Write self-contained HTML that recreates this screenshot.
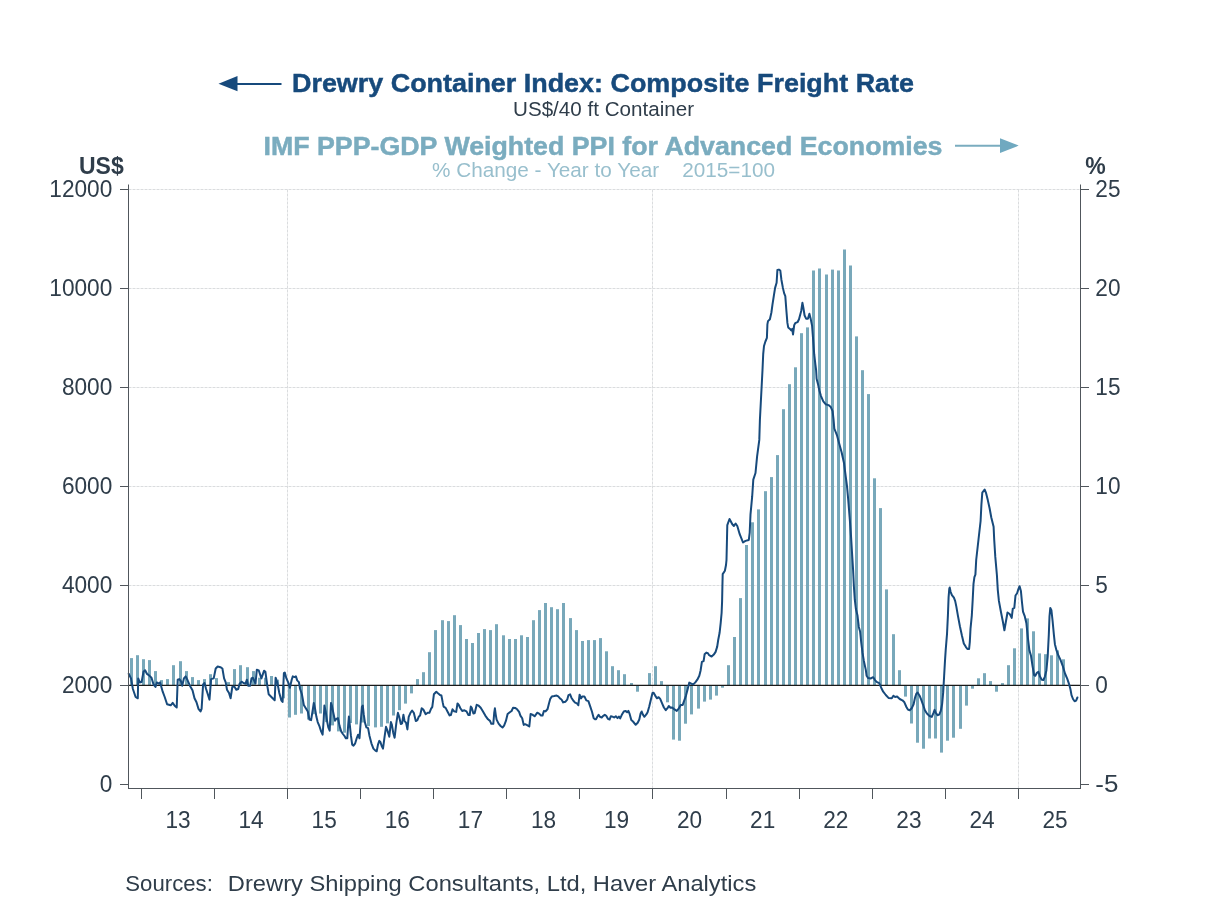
<!DOCTYPE html>
<html lang="en"><head><meta charset="utf-8"><title>Drewry Container Index vs PPI</title>
<style>html,body{margin:0;padding:0;background:#fff}body{width:1208px;height:906px;overflow:hidden}svg{display:block}text{font-family:"Liberation Sans",sans-serif}</style></head><body>
<svg width="1208" height="906" viewBox="0 0 1208 906">
<rect width="1208" height="906" fill="#fff"/>
<g stroke="#dadcde" stroke-width="1" stroke-dasharray="3 1" fill="none">
<line x1="128.5" y1="585.5" x2="1080.5" y2="585.5"/>
<line x1="128.5" y1="486.5" x2="1080.5" y2="486.5"/>
<line x1="128.5" y1="387.5" x2="1080.5" y2="387.5"/>
<line x1="128.5" y1="288.5" x2="1080.5" y2="288.5"/>
<line x1="128.5" y1="189.5" x2="1080.5" y2="189.5"/>
<line x1="287.5" y1="189.5" x2="287.5" y2="788.5"/>
<line x1="652.5" y1="189.5" x2="652.5" y2="788.5"/>
<line x1="1018.5" y1="189.5" x2="1018.5" y2="788.5"/>
</g>
<g fill="#78a8ba">
<rect x="130" y="658.1" width="3" height="27.2"/>
<rect x="136" y="655.2" width="3" height="30.1"/>
<rect x="142" y="659.2" width="3" height="26.1"/>
<rect x="148" y="660.1" width="3" height="25.2"/>
<rect x="154" y="671.1" width="3" height="14.2"/>
<rect x="160" y="680.1" width="3" height="5.2"/>
<rect x="166" y="679.1" width="3" height="6.2"/>
<rect x="172" y="665.2" width="3" height="20.1"/>
<rect x="179" y="661.2" width="3" height="24.1"/>
<rect x="185" y="671.1" width="3" height="14.2"/>
<rect x="191" y="677.1" width="3" height="8.2"/>
<rect x="197" y="680.1" width="3" height="5.2"/>
<rect x="203" y="679.1" width="3" height="6.2"/>
<rect x="209" y="674.2" width="3" height="11.1"/>
<rect x="215" y="678.1" width="3" height="7.2"/>
<rect x="221" y="684.8" width="3" height="0.5"/>
<rect x="227" y="682.1" width="3" height="3.2"/>
<rect x="233" y="669.1" width="3" height="16.2"/>
<rect x="239" y="665.2" width="3" height="20.1"/>
<rect x="246" y="667.2" width="3" height="18.1"/>
<rect x="252" y="671.1" width="3" height="14.2"/>
<rect x="258" y="677.7" width="3" height="7.6"/>
<rect x="264" y="677.7" width="3" height="7.6"/>
<rect x="270" y="676.0" width="3" height="9.3"/>
<rect x="276" y="679.7" width="3" height="5.6"/>
<rect x="282" y="685.3" width="3" height="13.0"/>
<rect x="288" y="685.3" width="3" height="32.2"/>
<rect x="294" y="685.3" width="3" height="29.5"/>
<rect x="300" y="685.3" width="3" height="28.2"/>
<rect x="307" y="685.3" width="3" height="34.2"/>
<rect x="313" y="685.3" width="3" height="28.9"/>
<rect x="319" y="685.3" width="3" height="28.2"/>
<rect x="325" y="685.3" width="3" height="36.8"/>
<rect x="331" y="685.3" width="3" height="40.1"/>
<rect x="337" y="685.3" width="3" height="46.1"/>
<rect x="343" y="685.3" width="3" height="47.4"/>
<rect x="349" y="685.3" width="3" height="37.7"/>
<rect x="355" y="685.3" width="3" height="39.1"/>
<rect x="361" y="685.3" width="3" height="37.2"/>
<rect x="367" y="685.3" width="3" height="40.8"/>
<rect x="374" y="685.3" width="3" height="42.1"/>
<rect x="380" y="685.3" width="3" height="41.5"/>
<rect x="386" y="685.3" width="3" height="38.1"/>
<rect x="392" y="685.3" width="3" height="30.2"/>
<rect x="398" y="685.3" width="3" height="24.9"/>
<rect x="404" y="685.3" width="3" height="18.3"/>
<rect x="410" y="685.3" width="3" height="8.1"/>
<rect x="416" y="679.1" width="3" height="6.2"/>
<rect x="422" y="672.2" width="3" height="13.1"/>
<rect x="428" y="652.2" width="3" height="33.1"/>
<rect x="434" y="630.1" width="3" height="55.2"/>
<rect x="441" y="620.2" width="3" height="65.1"/>
<rect x="447" y="621.1" width="3" height="64.2"/>
<rect x="453" y="615.2" width="3" height="70.1"/>
<rect x="459" y="625.1" width="3" height="60.2"/>
<rect x="465" y="639.0" width="3" height="46.3"/>
<rect x="471" y="643.0" width="3" height="42.3"/>
<rect x="477" y="633.0" width="3" height="52.3"/>
<rect x="483" y="629.1" width="3" height="56.2"/>
<rect x="489" y="630.1" width="3" height="55.2"/>
<rect x="495" y="624.2" width="3" height="61.1"/>
<rect x="502" y="635.3" width="3" height="50.0"/>
<rect x="508" y="639.0" width="3" height="46.3"/>
<rect x="514" y="639.0" width="3" height="46.3"/>
<rect x="520" y="635.3" width="3" height="50.0"/>
<rect x="526" y="637.0" width="3" height="48.3"/>
<rect x="532" y="620.2" width="3" height="65.1"/>
<rect x="538" y="610.1" width="3" height="75.2"/>
<rect x="544" y="603.0" width="3" height="82.3"/>
<rect x="550" y="607.2" width="3" height="78.1"/>
<rect x="556" y="609.2" width="3" height="76.1"/>
<rect x="562" y="603.0" width="3" height="82.3"/>
<rect x="569" y="618.1" width="3" height="67.2"/>
<rect x="575" y="630.1" width="3" height="55.2"/>
<rect x="581" y="641.0" width="3" height="44.3"/>
<rect x="587" y="640.1" width="3" height="45.2"/>
<rect x="593" y="640.1" width="3" height="45.2"/>
<rect x="599" y="638.1" width="3" height="47.2"/>
<rect x="605" y="651.3" width="3" height="34.0"/>
<rect x="611" y="666.2" width="3" height="19.1"/>
<rect x="617" y="670.2" width="3" height="15.1"/>
<rect x="623" y="674.2" width="3" height="11.1"/>
<rect x="630" y="683.0" width="3" height="2.3"/>
<rect x="636" y="685.3" width="3" height="6.4"/>
<rect x="642" y="685.3" width="3" height="0.1"/>
<rect x="648" y="673.1" width="3" height="12.2"/>
<rect x="654" y="666.2" width="3" height="19.1"/>
<rect x="660" y="681.1" width="3" height="4.2"/>
<rect x="666" y="685.3" width="3" height="17.0"/>
<rect x="672" y="685.3" width="3" height="54.3"/>
<rect x="678" y="685.3" width="3" height="55.4"/>
<rect x="684" y="685.3" width="3" height="38.4"/>
<rect x="690" y="685.3" width="3" height="29.1"/>
<rect x="697" y="685.3" width="3" height="23.3"/>
<rect x="703" y="685.3" width="3" height="16.3"/>
<rect x="709" y="685.3" width="3" height="14.3"/>
<rect x="715" y="685.3" width="3" height="10.3"/>
<rect x="721" y="685.3" width="3" height="2.4"/>
<rect x="727" y="665.2" width="3" height="20.1"/>
<rect x="733" y="637.0" width="3" height="48.3"/>
<rect x="739" y="598.1" width="3" height="87.2"/>
<rect x="745" y="545.0" width="3" height="140.3"/>
<rect x="751" y="522.3" width="3" height="163.0"/>
<rect x="757" y="509.4" width="3" height="175.9"/>
<rect x="764" y="491.2" width="3" height="194.1"/>
<rect x="770" y="477.1" width="3" height="208.2"/>
<rect x="776" y="455.1" width="3" height="230.2"/>
<rect x="782" y="409.2" width="3" height="276.1"/>
<rect x="788" y="384.2" width="3" height="301.1"/>
<rect x="794" y="367.3" width="3" height="318.0"/>
<rect x="800" y="333.2" width="3" height="352.1"/>
<rect x="806" y="327.4" width="3" height="357.9"/>
<rect x="812" y="270.5" width="3" height="414.8"/>
<rect x="818" y="268.5" width="3" height="416.8"/>
<rect x="825" y="274.5" width="3" height="410.8"/>
<rect x="831" y="269.6" width="3" height="415.7"/>
<rect x="837" y="270.5" width="3" height="414.8"/>
<rect x="843" y="249.5" width="3" height="435.8"/>
<rect x="849" y="265.5" width="3" height="419.8"/>
<rect x="855" y="336.4" width="3" height="348.9"/>
<rect x="861" y="370.2" width="3" height="315.1"/>
<rect x="867" y="394.1" width="3" height="291.2"/>
<rect x="873" y="478.3" width="3" height="207.0"/>
<rect x="879" y="508.1" width="3" height="177.2"/>
<rect x="885" y="589.4" width="3" height="95.9"/>
<rect x="892" y="634.2" width="3" height="51.1"/>
<rect x="898" y="670.2" width="3" height="15.1"/>
<rect x="904" y="685.3" width="3" height="11.3"/>
<rect x="910" y="685.3" width="3" height="38.2"/>
<rect x="916" y="685.3" width="3" height="57.4"/>
<rect x="922" y="685.3" width="3" height="63.4"/>
<rect x="928" y="685.3" width="3" height="53.2"/>
<rect x="934" y="685.3" width="3" height="53.2"/>
<rect x="940" y="685.3" width="3" height="67.3"/>
<rect x="946" y="685.3" width="3" height="55.4"/>
<rect x="952" y="685.3" width="3" height="52.4"/>
<rect x="959" y="685.3" width="3" height="43.5"/>
<rect x="965" y="685.3" width="3" height="20.3"/>
<rect x="971" y="685.3" width="3" height="3.4"/>
<rect x="977" y="678.3" width="3" height="7.0"/>
<rect x="983" y="673.2" width="3" height="12.1"/>
<rect x="989" y="681.1" width="3" height="4.2"/>
<rect x="995" y="685.3" width="3" height="6.4"/>
<rect x="1001" y="683.1" width="3" height="2.2"/>
<rect x="1007" y="665.2" width="3" height="20.1"/>
<rect x="1013" y="648.3" width="3" height="37.0"/>
<rect x="1020" y="628.4" width="3" height="56.9"/>
<rect x="1026" y="618.4" width="3" height="66.9"/>
<rect x="1032" y="631.3" width="3" height="54.0"/>
<rect x="1038" y="653.4" width="3" height="31.9"/>
<rect x="1044" y="654.2" width="3" height="31.1"/>
<rect x="1050" y="655.3" width="3" height="30.0"/>
<rect x="1056" y="650.4" width="3" height="34.9"/>
<rect x="1062" y="659.3" width="3" height="26.0"/>
</g>
<line x1="128.5" y1="685.3" x2="1080.5" y2="685.3" stroke="#1a1a1a" stroke-width="1.3"/>
<path d="M128.7 673.8 L131.0 678.4 L132.9 689.0 L135.6 697.0 L137.8 698.3 L138.2 678.4 L139.8 682.4 L141.6 682.1 L143.5 671.8 L145.1 670.2 L146.9 673.8 L148.8 675.1 L151.5 677.7 L153.5 684.4 L155.5 687.0 L156.8 682.4 L158.8 683.7 L160.1 682.4 L162.7 691.7 L164.7 697.0 L167.1 704.2 L170.7 705.3 L172.7 702.9 L174.7 705.8 L176.7 707.5 L177.7 679.7 L179.3 679.1 L180.9 681.1 L182.2 685.7 L183.9 678.4 L185.7 676.4 L187.3 679.7 L189.9 685.7 L192.5 690.3 L194.5 698.3 L196.5 702.3 L198.5 708.9 L200.5 711.5 L201.6 708.9 L203.1 684.4 L204.5 683.0 L206.1 689.0 L207.8 694.3 L209.5 699.6 L211.1 679.1 L213.7 678.4 L215.7 668.5 L217.7 666.5 L220.4 667.2 L222.4 668.5 L224.1 678.4 L225.7 682.4 L227.0 689.7 L229.0 693.0 L230.6 698.3 L232.3 687.0 L234.3 686.4 L236.3 689.7 L238.2 689.0 L239.6 683.7 L241.6 681.7 L243.5 683.0 L245.5 683.7 L246.9 679.7 L248.2 685.7 L250.2 685.7 L251.5 678.4 L252.8 677.7 L255.5 683.7 L256.8 669.8 L258.8 670.5 L261.4 678.4 L264.1 670.7 L265.4 671.8 L267.4 686.4 L268.7 694.3 L271.4 697.0 L274.7 700.3 L275.6 677.7 L277.3 682.4 L279.3 693.0 L281.3 700.3 L282.6 702.0 L283.9 673.1 L284.8 672.5 L286.4 678.4 L288.2 682.4 L289.9 687.7 L291.7 679.7 L292.8 676.4 L294.6 677.1 L295.9 676.4 L297.2 680.4 L298.9 682.1 L300.1 689.0 L301.9 694.3 L303.8 704.9 L305.8 708.2 L307.8 711.5 L309.4 719.5 L311.1 720.1 L312.5 711.5 L313.8 702.9 L315.1 708.9 L316.4 716.8 L317.7 722.1 L319.3 725.8 L321.1 731.4 L322.6 734.7 L323.7 719.5 L324.4 705.6 L325.7 711.5 L327.0 720.8 L328.3 727.4 L329.7 730.7 L331.0 702.9 L331.9 705.6 L333.2 712.2 L335.0 720.8 L336.3 718.8 L337.9 718.1 L339.6 726.1 L341.2 731.4 L342.9 734.0 L344.5 736.0 L345.8 738.3 L347.3 738.3 L348.2 724.8 L348.9 716.6 L349.8 724.8 L350.9 735.4 L352.2 744.6 L353.5 745.6 L355.2 743.3 L356.8 738.0 L358.1 734.7 L359.5 738.3 L360.5 724.8 L361.9 706.9 L362.8 705.6 L363.7 714.2 L365.0 722.8 L366.4 727.4 L368.1 728.1 L369.4 735.4 L371.4 743.3 L373.4 748.6 L375.4 750.6 L376.7 751.3 L378.0 744.6 L379.3 740.9 L380.4 742.0 L381.7 746.0 L383.0 748.6 L384.6 736.7 L386.0 726.8 L387.3 730.1 L389.3 736.7 L390.9 722.1 L391.9 724.8 L393.2 732.7 L394.6 737.7 L396.3 723.4 L397.9 712.8 L399.2 716.8 L400.8 724.1 L402.1 723.4 L403.4 714.8 L404.5 720.8 L406.1 722.8 L407.4 729.4 L408.7 716.8 L410.5 712.8 L412.1 710.5 L413.8 712.8 L415.8 721.1 L417.4 720.1 L418.7 716.8 L420.1 715.5 L421.7 708.2 L423.3 709.5 L425.7 714.2 L427.7 712.8 L429.4 712.8 L431.0 708.9 L432.3 706.9 L433.9 694.3 L436.3 691.7 L438.3 693.6 L440.0 695.0 L441.4 695.5 L442.7 702.4 L443.6 706.6 L445.6 707.9 L447.6 711.7 L449.6 715.4 L450.9 715.0 L452.5 709.3 L454.2 711.4 L456.2 711.9 L457.5 703.4 L458.8 705.0 L460.4 708.3 L462.2 711.0 L464.4 710.3 L466.5 711.4 L468.4 715.0 L469.7 715.0 L470.8 706.6 L471.8 707.9 L473.4 713.6 L474.7 713.0 L476.7 704.8 L478.7 705.7 L480.7 707.7 L482.7 711.0 L485.3 715.6 L488.0 719.3 L490.0 720.9 L491.3 723.8 L493.3 723.8 L494.2 713.0 L494.9 708.3 L495.7 714.3 L496.6 719.6 L498.6 723.6 L500.6 726.0 L502.5 727.5 L504.1 725.6 L505.9 720.9 L507.6 714.0 L509.8 712.3 L511.6 711.0 L513.1 707.7 L515.1 707.9 L517.1 709.3 L519.1 711.9 L520.4 715.6 L522.2 718.3 L523.7 724.9 L525.1 724.2 L527.1 725.2 L529.3 726.5 L530.6 714.0 L532.4 714.6 L534.6 716.3 L537.3 712.7 L539.0 713.6 L541.0 715.4 L542.5 715.6 L543.9 711.0 L545.6 711.4 L547.6 709.0 L548.9 703.7 L550.2 699.1 L551.8 696.4 L554.2 696.0 L556.6 695.5 L558.2 696.4 L560.2 698.7 L561.5 699.5 L563.2 702.4 L565.5 701.7 L567.2 699.7 L568.5 695.1 L570.1 694.4 L571.4 697.7 L573.4 700.8 L575.1 702.6 L577.0 703.4 L578.3 705.3 L579.6 694.7 L581.0 698.4 L582.3 696.4 L584.4 696.4 L586.3 700.4 L588.4 701.1 L590.2 706.4 L592.0 711.7 L593.7 718.3 L595.0 719.3 L596.0 719.2 L597.3 716.8 L598.6 714.8 L599.9 716.8 L601.7 717.5 L603.2 715.8 L604.8 714.8 L606.2 715.8 L607.9 718.8 L609.6 719.5 L610.9 716.2 L612.5 716.6 L614.1 717.5 L615.8 716.2 L617.5 718.1 L618.9 716.6 L620.2 718.4 L621.8 714.8 L623.8 711.5 L625.5 710.9 L627.1 712.2 L628.4 710.9 L629.7 714.2 L631.3 720.1 L633.0 721.5 L635.7 724.8 L637.7 722.8 L639.3 719.5 L640.6 713.5 L641.7 711.5 L643.0 714.8 L644.3 716.8 L646.3 714.4 L647.6 712.2 L649.3 706.2 L650.9 699.6 L652.5 693.0 L653.6 692.7 L655.2 695.6 L656.9 698.3 L658.6 697.2 L660.2 698.9 L662.2 703.6 L663.9 707.5 L665.8 710.2 L667.5 708.2 L668.8 706.0 L670.5 707.8 L672.1 707.5 L674.1 709.1 L676.8 710.9 L678.5 708.9 L680.7 704.9 L682.7 704.9 L684.3 700.3 L686.0 695.6 L687.7 689.0 L689.3 682.6 L691.3 683.7 L693.3 684.4 L695.3 682.4 L697.3 679.7 L699.3 675.8 L700.6 670.5 L701.9 661.9 L703.6 661.2 L704.6 654.3 L706.3 652.6 L707.9 653.2 L709.2 655.2 L711.6 656.6 L713.8 654.6 L715.6 651.9 L717.2 646.6 L718.2 640.0 L719.6 632.8 L720.7 622.9 L721.6 613.0 L722.1 601.4 L722.4 586.5 L722.7 574.1 L724.9 570.8 L726.0 565.0 L726.5 560.0 L727.3 525.1 L729.5 519.0 L730.6 521.0 L732.3 524.3 L733.9 526.0 L735.6 523.5 L737.3 526.0 L739.7 534.2 L741.4 538.4 L743.0 542.5 L745.5 540.9 L748.8 540.0 L749.7 532.6 L750.5 514.4 L752.2 496.2 L753.3 479.6 L755.5 473.0 L757.1 456.4 L759.3 439.9 L759.9 420.0 L762.5 370.0 L763.2 354.2 L764.0 346.0 L765.4 341.5 L766.9 337.8 L767.4 324.4 L768.0 321.1 L769.9 319.2 L771.4 312.5 L772.5 304.3 L773.9 295.3 L775.1 287.9 L776.6 282.7 L777.4 270.0 L778.9 269.6 L780.3 270.5 L781.4 279.7 L782.9 287.9 L784.1 293.1 L785.3 296.1 L786.3 309.5 L787.4 322.9 L788.2 327.4 L790.0 328.9 L791.2 330.4 L792.3 328.9 L793.0 334.5 L794.2 325.1 L795.2 323.2 L797.5 322.2 L799.0 319.2 L801.2 311.0 L802.4 302.8 L803.4 308.0 L804.6 315.5 L806.1 318.7 L807.9 318.7 L809.4 313.7 L810.6 318.4 L812.1 325.9 L813.1 339.3 L814.2 354.2 L815.4 364.6 L816.1 370.0 L816.6 378.7 L818.1 384.5 L819.3 390.3 L821.0 396.1 L823.3 401.3 L825.6 404.2 L828.5 405.1 L830.8 407.1 L832.6 411.1 L833.5 419.2 L834.3 428.5 L837.1 435.7 L839.1 443.2 L841.6 452.3 L844.0 463.0 L845.7 476.3 L847.0 486.2 L848.2 499.5 L849.8 519.3 L851.0 535.9 L852.0 552.5 L853.1 570.0 L853.9 586.5 L854.8 599.7 L855.9 609.0 L857.5 615.6 L858.8 626.9 L860.1 631.5 L861.2 642.1 L862.5 652.7 L863.8 660.7 L865.8 669.9 L866.6 675.8 L868.2 678.1 L870.6 678.5 L873.2 677.2 L874.8 679.8 L876.6 681.8 L879.2 683.1 L881.2 687.7 L883.2 691.7 L885.8 695.0 L888.5 697.9 L891.8 698.3 L893.4 695.7 L895.1 697.0 L897.1 696.6 L899.7 699.0 L902.4 700.3 L904.4 702.3 L906.4 707.0 L907.9 709.6 L909.7 710.3 L911.7 708.3 L913.6 704.3 L915.0 697.7 L916.3 693.7 L917.6 692.6 L919.6 695.7 L921.2 699.7 L922.9 704.3 L924.9 710.3 L926.9 713.6 L929.5 716.0 L931.8 716.9 L933.5 712.9 L934.6 709.9 L935.8 712.9 L937.5 715.2 L939.2 714.6 L940.8 710.9 L942.1 704.3 L943.2 692.4 L944.1 676.5 L945.0 660.6 L945.7 650.1 L947.0 634.2 L947.9 615.6 L948.6 597.1 L949.3 588.5 L949.7 587.5 L950.6 591.8 L951.9 595.1 L953.9 597.7 L955.2 601.1 L956.3 606.4 L957.9 615.6 L959.9 626.2 L961.9 635.5 L963.8 643.4 L965.8 646.8 L967.4 649.0 L969.1 649.0 L969.8 642.1 L970.5 628.9 L971.8 615.6 L972.7 599.7 L973.5 583.8 L974.4 577.2 L975.4 574.6 L976.2 560.0 L978.5 539.5 L980.6 521.0 L981.4 504.8 L982.3 492.6 L984.6 489.5 L986.1 493.2 L987.8 500.1 L989.6 508.2 L991.3 517.5 L993.6 526.8 L994.2 539.5 L995.3 556.9 L996.9 575.0 L997.8 590.1 L998.9 600.9 L1000.9 611.7 L1002.9 621.8 L1004.4 630.3 L1006.0 621.0 L1007.5 612.5 L1009.7 614.0 L1011.7 617.9 L1012.8 608.6 L1014.3 607.9 L1015.5 595.5 L1017.1 593.2 L1018.3 589.3 L1019.6 586.2 L1020.9 590.9 L1022.0 602.5 L1023.0 611.7 L1024.8 616.4 L1026.4 623.3 L1027.9 638.0 L1029.4 650.4 L1031.0 655.8 L1032.5 665.8 L1034.1 675.1 L1035.3 675.8 L1036.9 672.8 L1038.4 671.7 L1040.0 676.6 L1041.8 679.7 L1043.4 680.0 L1044.9 676.6 L1046.4 670.4 L1047.7 656.5 L1048.8 634.9 L1049.5 616.4 L1050.3 607.9 L1051.4 610.2 L1052.6 621.0 L1053.9 634.9 L1054.9 644.2 L1056.5 650.4 L1058.5 655.8 L1060.4 659.6 L1062.7 665.8 L1065.0 673.5 L1067.3 678.9 L1068.9 683.6 L1070.4 689.0 L1071.5 695.2 L1073.0 699.0 L1074.6 701.3 L1076.1 700.6 L1077.4 697.5" fill="none" stroke="#174a7c" stroke-width="2" stroke-linejoin="round" stroke-linecap="round"/>
<g stroke="#50565c" stroke-width="1" fill="none">
<line x1="128.5" y1="184.5" x2="128.5" y2="789.0"/>
<line x1="1080.5" y1="184.5" x2="1080.5" y2="789.0"/>
<line x1="128.5" y1="788.5" x2="1080.5" y2="788.5"/>
<line x1="120.0" y1="784.5" x2="128.5" y2="784.5"/>
<line x1="1080.5" y1="784.5" x2="1089.0" y2="784.5"/>
<line x1="120.0" y1="685.5" x2="128.5" y2="685.5"/>
<line x1="1080.5" y1="685.5" x2="1089.0" y2="685.5"/>
<line x1="120.0" y1="585.5" x2="128.5" y2="585.5"/>
<line x1="1080.5" y1="585.5" x2="1089.0" y2="585.5"/>
<line x1="120.0" y1="486.5" x2="128.5" y2="486.5"/>
<line x1="1080.5" y1="486.5" x2="1089.0" y2="486.5"/>
<line x1="120.0" y1="387.5" x2="128.5" y2="387.5"/>
<line x1="1080.5" y1="387.5" x2="1089.0" y2="387.5"/>
<line x1="120.0" y1="288.5" x2="128.5" y2="288.5"/>
<line x1="1080.5" y1="288.5" x2="1089.0" y2="288.5"/>
<line x1="120.0" y1="189.5" x2="128.5" y2="189.5"/>
<line x1="1080.5" y1="189.5" x2="1089.0" y2="189.5"/>
<line x1="141.5" y1="788.5" x2="141.5" y2="799.0"/>
<line x1="214.5" y1="788.5" x2="214.5" y2="799.0"/>
<line x1="287.5" y1="788.5" x2="287.5" y2="799.0"/>
<line x1="360.5" y1="788.5" x2="360.5" y2="799.0"/>
<line x1="433.5" y1="788.5" x2="433.5" y2="799.0"/>
<line x1="506.5" y1="788.5" x2="506.5" y2="799.0"/>
<line x1="579.5" y1="788.5" x2="579.5" y2="799.0"/>
<line x1="652.5" y1="788.5" x2="652.5" y2="799.0"/>
<line x1="726.5" y1="788.5" x2="726.5" y2="799.0"/>
<line x1="799.5" y1="788.5" x2="799.5" y2="799.0"/>
<line x1="872.5" y1="788.5" x2="872.5" y2="799.0"/>
<line x1="945.5" y1="788.5" x2="945.5" y2="799.0"/>
<line x1="1018.5" y1="788.5" x2="1018.5" y2="799.0"/>
</g>
<g fill="#2f3d4a" font-size="24.5" text-anchor="end" lengthAdjust="spacingAndGlyphs">
<text x="112.3" y="791.8" textLength="12.6" lengthAdjust="spacingAndGlyphs">0</text>
<text x="112.3" y="692.8" textLength="50.4" lengthAdjust="spacingAndGlyphs">2000</text>
<text x="112.3" y="592.8" textLength="50.4" lengthAdjust="spacingAndGlyphs">4000</text>
<text x="112.3" y="493.8" textLength="50.4" lengthAdjust="spacingAndGlyphs">6000</text>
<text x="112.3" y="394.8" textLength="50.4" lengthAdjust="spacingAndGlyphs">8000</text>
<text x="112.3" y="295.8" textLength="63.0" lengthAdjust="spacingAndGlyphs">10000</text>
<text x="112.3" y="196.8" textLength="63.0" lengthAdjust="spacingAndGlyphs">12000</text>
</g>
<g fill="#2f3d4a" font-size="24.5" text-anchor="start">
<text x="1095.3" y="196.8" textLength="25.2" lengthAdjust="spacingAndGlyphs">25</text>
<text x="1095.3" y="295.8" textLength="25.2" lengthAdjust="spacingAndGlyphs">20</text>
<text x="1095.3" y="394.8" textLength="25.2" lengthAdjust="spacingAndGlyphs">15</text>
<text x="1095.3" y="493.8" textLength="25.2" lengthAdjust="spacingAndGlyphs">10</text>
<text x="1095.3" y="592.8" textLength="12.6" lengthAdjust="spacingAndGlyphs">5</text>
<text x="1095.3" y="692.8" textLength="12.6" lengthAdjust="spacingAndGlyphs">0</text>
<text x="1095.3" y="791.8" textLength="23.1" lengthAdjust="spacingAndGlyphs">-5</text>
</g>
<g fill="#2f3d4a" font-size="24.5" text-anchor="middle">
<text x="178.0" y="827.7" textLength="25.2" lengthAdjust="spacingAndGlyphs">13</text>
<text x="251.1" y="827.7" textLength="25.2" lengthAdjust="spacingAndGlyphs">14</text>
<text x="324.2" y="827.7" textLength="25.2" lengthAdjust="spacingAndGlyphs">15</text>
<text x="397.3" y="827.7" textLength="25.2" lengthAdjust="spacingAndGlyphs">16</text>
<text x="470.4" y="827.7" textLength="25.2" lengthAdjust="spacingAndGlyphs">17</text>
<text x="543.5" y="827.7" textLength="25.2" lengthAdjust="spacingAndGlyphs">18</text>
<text x="616.5" y="827.7" textLength="25.2" lengthAdjust="spacingAndGlyphs">19</text>
<text x="689.6" y="827.7" textLength="25.2" lengthAdjust="spacingAndGlyphs">20</text>
<text x="762.7" y="827.7" textLength="25.2" lengthAdjust="spacingAndGlyphs">21</text>
<text x="835.8" y="827.7" textLength="25.2" lengthAdjust="spacingAndGlyphs">22</text>
<text x="908.9" y="827.7" textLength="25.2" lengthAdjust="spacingAndGlyphs">23</text>
<text x="982.0" y="827.7" textLength="25.2" lengthAdjust="spacingAndGlyphs">24</text>
<text x="1055.0" y="827.7" textLength="25.2" lengthAdjust="spacingAndGlyphs">25</text>
</g>
<text x="79" y="174.3" fill="#2f3d4a" font-size="23" font-weight="bold">US$</text>
<text x="1085.3" y="174.3" fill="#2f3d4a" font-size="23" font-weight="bold">%</text>
<text x="292" y="92" fill="#174a7c" stroke="#174a7c" stroke-width="0.45" font-size="25" font-weight="bold" textLength="622" lengthAdjust="spacingAndGlyphs">Drewry Container Index: Composite Freight Rate</text>
<text x="513" y="116" fill="#2f3d4a" font-size="20.5" textLength="181" lengthAdjust="spacingAndGlyphs">US$/40 ft Container</text>
<text x="263.5" y="154.5" fill="#7aacbf" stroke="#7aacbf" stroke-width="0.45" font-size="25" font-weight="bold" textLength="679" lengthAdjust="spacingAndGlyphs">IMF PPP-GDP Weighted PPI for Advanced Economies</text>
<text x="432" y="176.5" fill="#98bfcd" font-size="20.5" textLength="343" lengthAdjust="spacingAndGlyphs" style="white-space:pre">% Change - Year to Year    2015=100</text>
<g fill="#174a7c" stroke="#174a7c"><line x1="232" y1="83.9" x2="281.5" y2="83.9" stroke-width="2"/><path d="M218.5 83.7 L237.5 76 L237.5 91.3 Z" stroke="none"/></g>
<g fill="#7aacbf" stroke="#7aacbf"><line x1="955" y1="145.8" x2="1003" y2="145.8" stroke-width="2"/><path d="M1018.7 145.6 L1000 138.2 L1000 153 Z" stroke="none" fill="#70a9c0"/></g>
<text y="890.6" fill="#2f3d4a" font-size="22.2" style="white-space:pre"><tspan x="125.3" textLength="87.5" lengthAdjust="spacingAndGlyphs">Sources:</tspan><tspan x="227.8" textLength="528.5" lengthAdjust="spacingAndGlyphs">Drewry Shipping Consultants, Ltd, Haver Analytics</tspan></text>
</svg></body></html>
